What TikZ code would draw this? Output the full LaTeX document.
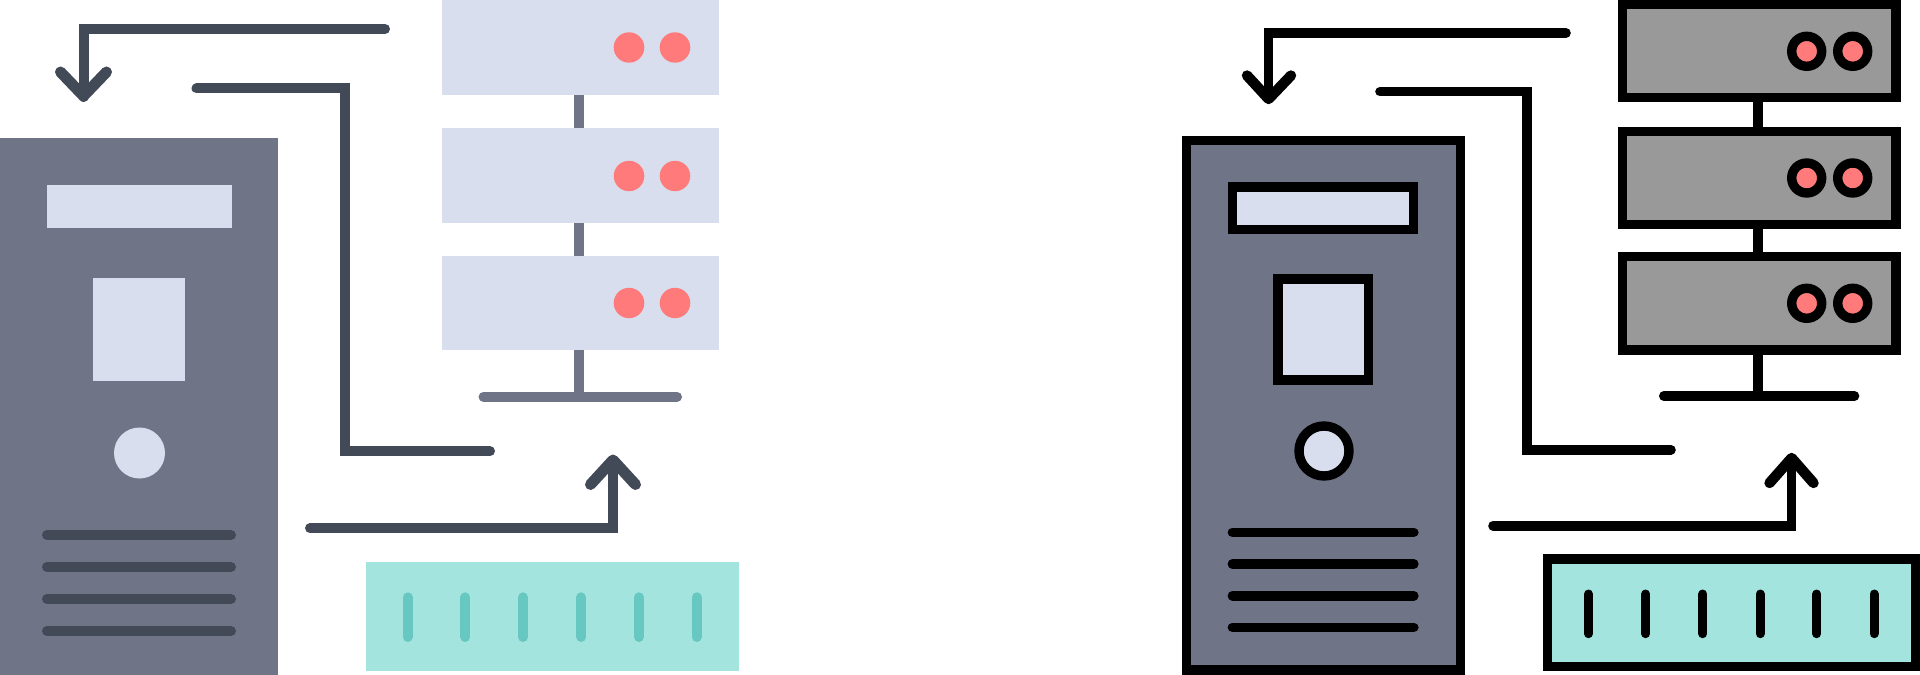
\documentclass[tikz,border=0pt]{standalone}
\definecolor{towerc}{HTML}{6F7487}
\definecolor{lightc}{HTML}{D8DEED}
\definecolor{darkc}{HTML}{424957}
\definecolor{redc}{HTML}{FF7B7B}
\definecolor{tealc}{HTML}{A4E4DF}
\definecolor{tickc}{HTML}{66C8C0}
\definecolor{grayc}{HTML}{999999}
\tikzset{
  px/.style={x=0.05cm,y=-0.05cm},
  wire/.style={draw=#1,line width=0.5cm,line cap=round,line join=round},
  wireb/.style={draw=black,line width=0.48cm,line cap=round,line join=round},
  elbow/.style={line join=miter},
  headd/.style={draw=darkc,line width=0.55cm,line cap=round,line join=round},
  headb/.style={draw=black,line width=0.52cm,line cap=round,line join=round},
  link/.style={draw=#1,line width=0.5cm},
  boxed/.style={draw=black,line width=0.47cm,line join=miter,fill=#1},
}
\begin{document}
\begin{tikzpicture}[px]
\useasboundingbox (0,0) rectangle (1920,675);
\fill[white] (0,0) rectangle (1920,675);
% ---------- left, flat version ----------
\draw[link=towerc] (579,95) -- (579,128);
\draw[link=towerc] (579,223) -- (579,256);
\draw[link=towerc] (579,350) -- (579,396);
\draw[wire=towerc] (483.5,396.7) -- (677,396.7);
\foreach \ya/\yb/\yc in {0/95/47.5,128.3/223/176,255.7/350/303}{
  \fill[lightc] (441.6,\ya) rectangle (719,\yb);
  \fill[redc] (629,\yc) circle[x radius=15.3,y radius=15.2];
  \fill[redc] (675,\yc) circle[x radius=15.3,y radius=15.2];
}
\draw[wire=darkc,elbow] (385,29) -- (83.5,29) -- (83.5,97);
\draw[headd] (60.5,72) -- (83.5,96) -- (106.5,72);
\draw[wire=darkc,elbow] (196.5,88.5) -- (345,88.5) -- (345,451.3) -- (490,451.3);
\draw[wire=darkc,elbow] (310,528.3) -- (613,528.3) -- (613,460);
\draw[headd] (590.5,484.5) -- (613,460) -- (635.5,484.5);
\fill[towerc] (0,138) rectangle (278,675);
\fill[lightc] (46.5,185) rectangle (231.5,228);
\fill[lightc] (93,278) rectangle (184.7,380.7);
\fill[lightc] (139.5,453) circle[radius=25.5];
\foreach \y in {535,567,599,631}{
  \draw[wire=darkc] (47,\y) -- (231,\y);
}
\fill[tealc] (366,562.3) rectangle (738.7,671);
\foreach \x in {407.7,465.3,523,581.2,638.9,696.6}{
  \draw[wire=tickc] (\x,597.3) -- (\x,637);
}
% ---------- right, outlined version ----------
\draw[link=black] (1758.4,97) -- (1758.4,396);
\draw[wireb] (1663.8,396) -- (1854.5,396);
\foreach \ya/\yb/\yc in {4.5/97.5/51.3,131.5/224.5/178,256.5/350/303.3}{
  \draw[boxed=grayc] (1622.3,\ya) rectangle (1896,\yb);
  \draw[boxed=redc] (1806.7,\yc) circle[radius=15];
  \draw[boxed=redc] (1852.7,\yc) circle[radius=15];
}
\draw[wireb,elbow] (1566,33) -- (1268.6,33) -- (1268.6,99);
\draw[headb] (1247,75.5) -- (1268.6,99) -- (1291,75.5);
\draw[wireb,elbow] (1380,91.7) -- (1527,91.7) -- (1527,449.7) -- (1671,449.7);
\draw[wireb,elbow] (1493,525.7) -- (1791.6,525.7) -- (1791.6,458);
\draw[headb] (1769.5,483) -- (1791.6,458) -- (1813.5,483);
\draw[boxed=towerc] (1186.5,140.8) rectangle (1460.5,670);
\draw[boxed=lightc] (1232.2,187) rectangle (1413.6,229.5);
\draw[boxed=lightc] (1278,279) rectangle (1368.6,380);
\draw[boxed=lightc] (1324,451) circle[radius=25];
\foreach \y in {532.3,564,595.7,627.3}{
  \draw[wireb] (1232.4,\y) -- (1413.8,\y);
}
\draw[boxed=tealc] (1547.6,559) rectangle (1915.5,666.5);
\foreach \x in {1588.5,1645.7,1702.9,1760.1,1816.8,1874}{
  \draw[wireb,line width=0.45cm] (\x,594) -- (\x,633.7);
}
\end{tikzpicture}
\end{document}
